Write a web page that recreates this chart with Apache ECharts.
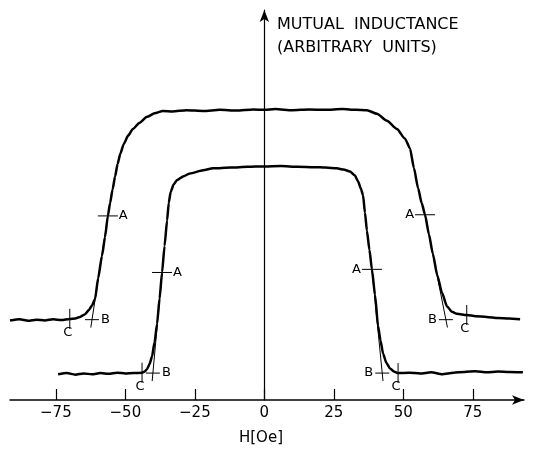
<!DOCTYPE html>
<html>
<head>
<meta charset="utf-8">
<script src="https://cdn.jsdelivr.net/npm/echarts@6/dist/echarts.min.js"></script>
<style>
  html, body { margin: 0; padding: 0; background: #fff; }
  #main { width: 534px; height: 451px; }
</style>
</head>
<body>
<div id="main"></div>
<script>
// field axis ticks
const xTicks = [-75, -50, -25, 0, 25, 50, 75]

// upper (outer) loop
const outerH = [-91.5, -88, -85, -82, -79, -76, -73, -70, -68, -66.3, -64.5, -63.2, -62, -60.9, -59.8, -58.4,
  -57.3, -56.3, -55.5, -54.6, -53.7, -52.8, -51.8, -50.6, -49, -47.3, -45, -42.2, -39.5, -36.5, -33, -28,
  -22, -16, -10, -4, 0, 4, 10, 16, 22, 28, 33, 36.9, 40.5, 44.1, 47.7, 50.6,
  52.4, 53.8, 55.3, 56.6, 57.8, 59.2, 60.6, 62.2, 63.9, 65.7, 67.5, 69.3, 72.8, 76, 80, 84, 88, 92]
const outerM = [20.4, 20.7, 20.3, 20.6, 20.4, 20.7, 20.5, 20.8, 20.9, 21.3, 22.0, 23.0, 24.2, 25.9, 31.2, 37.0,
  41.8, 47.2, 50.5, 54.0, 57.3, 60.5, 63.2, 65.6, 67.8, 69.5, 71.0, 72.6, 73.5, 74.1, 74.0, 74.3,
  74.1, 74.4, 74.2, 74.5, 74.4, 74.6, 74.3, 74.5, 74.4, 74.6, 74.4, 74.3, 73.4, 71.6, 69.5, 67.0,
  64.5, 59.5, 54.3, 50.5, 47.5, 42.5, 37.5, 32.0, 27.5, 24.0, 22.6, 22.1, 21.8, 21.5, 21.3, 21.0, 20.9, 20.7]

// lower (inner) loop
const innerH = [-74.2, -71, -68, -65, -62, -59, -56, -53, -50, -47, -44, -43, -42.2, -41.3, -40.4, -39.5,
  -38.6, -37.7, -36.8, -35.9, -35, -34.4, -33.7, -32.6, -31.4, -29, -26.8, -22, -18.5, -12, -6, 0,
  6, 12, 18, 22, 26.1, 28.5, 30.8, 32.5, 33.7, 34.7, 35.5, 36.2, 36.9, 37.8, 38.7, 39.8,
  40.9, 41.8, 42.7, 43.9, 45.2, 46.6, 48.1, 52, 56, 60, 64, 68, 72, 76, 80, 84, 88, 93]
const innerM = [6.6, 6.9, 6.5, 6.8, 6.6, 6.9, 6.7, 7.0, 6.8, 6.9, 7.0, 7.3, 7.9, 9.2, 11.2, 14.8,
  19.5, 26.0, 32.7, 39.5, 46.0, 50.5, 53.4, 55.3, 56.4, 57.4, 58.1, 58.9, 59.4, 59.6, 59.8, 59.9,
  60.0, 59.8, 59.7, 59.6, 59.4, 59.1, 58.6, 57.6, 56.1, 54.2, 52.5, 48.0, 43.4, 38.5, 33.5, 27.0,
  19.0, 15.2, 11.9, 9.5, 8.1, 7.3, 6.9, 7.0, 6.8, 7.1, 6.6, 7.0, 7.2, 7.4, 7.1, 7.3, 7.2, 7.1]

// construction points: A = steepest point, B = tangent meets baseline, C = curve meets baseline
const markA = [[-56.3, 47.2], [-36.8, 32.7], [38.7, 33.5], [57.8, 47.5]]
const markB = [[-62.0, 20.6], [-40.1, 6.9], [42.4, 6.9], [65.3, 20.6]]
const markC = [[-70.0, 20.8], [-44.0, 7.0], [48.1, 6.9], [72.8, 21.8]]

const zip = (xs, ys) => xs.map((x, i) => [x, ys[i]])

const marks = []
markA.forEach((p) => marks.push([p[0], p[1], 0, 0, 0]))
markB.forEach((p, i) => marks.push([p[0], p[1], 1, markA[i][0], markA[i][1]]))
markC.forEach((p) => marks.push([p[0], p[1], 2, 0, 0]))

const FONT = "'DejaVu Sans', sans-serif"
const myChart = echarts.init(document.getElementById("main"))

const option = {
  animation: false,
  backgroundColor: "#fff",
  title: {
    text: "MUTUAL  INDUCTANCE\n(ARBITRARY  UNITS)",
    left: 277,
    top: 13,
    padding: 0,
    textStyle: { color: "#000", fontFamily: FONT, fontSize: 16, fontWeight: "normal", lineHeight: 23 }
  },
  grid: { left: 10, right: 10, top: 10, bottom: 47 },
  xAxis: {
    type: "value",
    min: -91.5,
    max: 93.4,
    name: "H[Oe]",
    nameLocation: "middle",
    nameGap: 31,
    nameTextStyle: { color: "#000", fontFamily: FONT, fontSize: 15, padding: [0, 12, 0, 0] },
    axisLine: { lineStyle: { color: "#000", width: 1.5 }, symbol: ["none", "arrow"], symbolSize: [7, 12] },
    axisTick: { inside: true, length: 11, customValues: xTicks, lineStyle: { color: "#000", width: 1.2 } },
    axisLabel: {
      customValues: xTicks,
      margin: 6,
      color: "#000",
      fontFamily: FONT,
      fontSize: 15,
      formatter: (v) => (v < 0 ? "\u2212" + Math.abs(v) : String(v))
    },
    splitLine: { show: false }
  },
  yAxis: {
    type: "value",
    min: 0,
    max: 100,
    axisLine: { onZero: true, lineStyle: { color: "#000", width: 1.2 }, symbol: ["none", "arrow"], symbolSize: [7, 12] },
    axisTick: { show: false },
    axisLabel: { show: false },
    splitLine: { show: false }
  },
  series: [
    {
      type: "line",
      data: zip(outerH, outerM),
      symbol: "none",
      smooth: 0.2,
      smoothMonotone: "x",
      lineStyle: { color: "#000", width: 2.5 }
    },
    {
      type: "line",
      data: zip(innerH, innerM),
      symbol: "none",
      smooth: 0.2,
      smoothMonotone: "x",
      lineStyle: { color: "#000", width: 2.5 }
    },
    {
      type: "custom",
      data: marks,
      encode: { x: 0, y: 1 },
      clip: false,
      z: 5,
      renderItem: (params, api) => {
        const kind = api.value(2)
        const p = api.coord([api.value(0), api.value(1)])
        const left = api.value(0) < 0
        const ink = { stroke: "#000", lineWidth: 1 }
        const txt = { fill: "#000", fontFamily: FONT, fontSize: 13 }
        const children = []
        if (kind === 0) {
          // A: short horizontal cross on the curve
          children.push({ type: "line", shape: { x1: p[0] - 10, y1: p[1], x2: p[0] + 10, y2: p[1] }, style: ink })
          children.push({
            type: "text",
            style: Object.assign({}, txt, { text: "A", x: left ? p[0] + 11 : p[0] - 11, y: p[1], align: left ? "left" : "right", verticalAlign: "middle" })
          })
        } else if (kind === 1) {
          // B: tangent from A down to baseline plus a small cross
          const a = api.coord([api.value(3), api.value(4)])
          const dx = p[0] - a[0]
          const dy = p[1] - a[1]
          const len = Math.sqrt(dx * dx + dy * dy)
          children.push({ type: "line", shape: { x1: a[0], y1: a[1], x2: p[0] + (dx / len) * 8, y2: p[1] + (dy / len) * 8 }, style: ink })
          children.push({ type: "line", shape: { x1: p[0] - 7, y1: p[1], x2: p[0] + 7, y2: p[1] }, style: ink })
          children.push({
            type: "text",
            style: Object.assign({}, txt, { text: "B", x: left ? p[0] + 9 : p[0] - 9, y: p[1], align: left ? "left" : "right", verticalAlign: "middle" })
          })
        } else {
          // C: vertical cross where the curve meets baseline
          children.push({ type: "line", shape: { x1: p[0], y1: p[1] - 10, x2: p[0], y2: p[1] + 10 }, style: ink })
          children.push({
            type: "text",
            style: Object.assign({}, txt, { text: "C", x: p[0] - 2, y: p[1] + 7, align: "center", verticalAlign: "top" })
          })
        }
        return { type: "group", children: children }
      }
    }
  ]
}

myChart.setOption(option)
</script>
</body>
</html>
